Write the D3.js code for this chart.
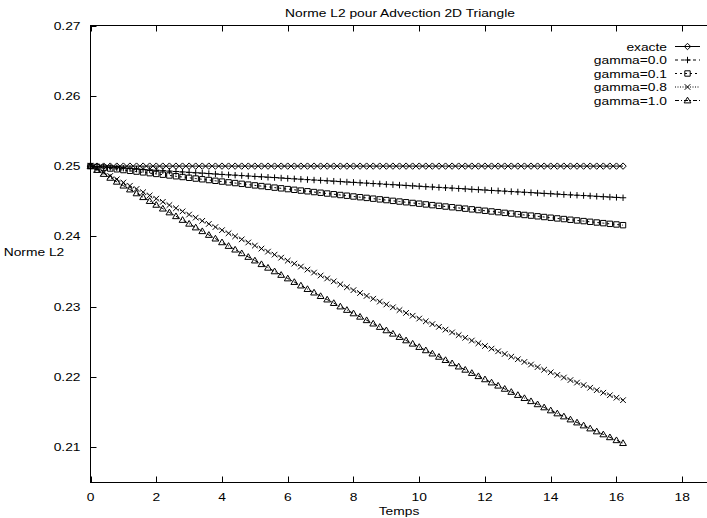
<!DOCTYPE html>
<html>
<head>
<meta charset="utf-8">
<script src="https://cdn.jsdelivr.net/npm/d3@7"></script>
<style>
  html, body { margin: 0; padding: 0; background: #fff; }
  svg { display: block; }
  text { font-family: "Liberation Sans", Arial, Helvetica, sans-serif; fill: #000; }
</style>
</head>
<body>
<svg id="chart" width="707" height="518"></svg>
<script>
// Time samples (every 0.2 up to 16.2)
const temps = [
  0.0, 0.2, 0.4, 0.6, 0.8, 1.0, 1.2, 1.4, 1.6, 1.8,
  2.0, 2.2, 2.4, 2.6, 2.8, 3.0, 3.2, 3.4, 3.6, 3.8,
  4.0, 4.2, 4.4, 4.6, 4.8, 5.0, 5.2, 5.4, 5.6, 5.8,
  6.0, 6.2, 6.4, 6.6, 6.8, 7.0, 7.2, 7.4, 7.6, 7.8,
  8.0, 8.2, 8.4, 8.6, 8.8, 9.0, 9.2, 9.4, 9.6, 9.8,
  10.0, 10.2, 10.4, 10.6, 10.8, 11.0, 11.2, 11.4, 11.6, 11.8,
  12.0, 12.2, 12.4, 12.6, 12.8, 13.0, 13.2, 13.4, 13.6, 13.8,
  14.0, 14.2, 14.4, 14.6, 14.8, 15.0, 15.2, 15.4, 15.6, 15.8,
  16.0, 16.2
];

// L2 norm of the exact solution
const exacte = [
  0.25, 0.25, 0.25, 0.25, 0.25, 0.25, 0.25, 0.25, 0.25, 0.25,
  0.25, 0.25, 0.25, 0.25, 0.25, 0.25, 0.25, 0.25, 0.25, 0.25,
  0.25, 0.25, 0.25, 0.25, 0.25, 0.25, 0.25, 0.25, 0.25, 0.25,
  0.25, 0.25, 0.25, 0.25, 0.25, 0.25, 0.25, 0.25, 0.25, 0.25,
  0.25, 0.25, 0.25, 0.25, 0.25, 0.25, 0.25, 0.25, 0.25, 0.25,
  0.25, 0.25, 0.25, 0.25, 0.25, 0.25, 0.25, 0.25, 0.25, 0.25,
  0.25, 0.25, 0.25, 0.25, 0.25, 0.25, 0.25, 0.25, 0.25, 0.25,
  0.25, 0.25, 0.25, 0.25, 0.25, 0.25, 0.25, 0.25, 0.25, 0.25,
  0.25, 0.25
];

const gamma00 = [
  0.25000, 0.24994, 0.24988, 0.24982, 0.24976, 0.24970, 0.24964, 0.24958, 0.24952, 0.24946,
  0.24941, 0.24935, 0.24929, 0.24923, 0.24917, 0.24911, 0.24905, 0.24900, 0.24894, 0.24888,
  0.24882, 0.24876, 0.24871, 0.24865, 0.24859, 0.24853, 0.24848, 0.24842, 0.24837, 0.24831,
  0.24825, 0.24819, 0.24814, 0.24808, 0.24802, 0.24797, 0.24791, 0.24786, 0.24780, 0.24774,
  0.24769, 0.24763, 0.24758, 0.24752, 0.24747, 0.24741, 0.24736, 0.24730, 0.24725, 0.24719,
  0.24714, 0.24708, 0.24703, 0.24697, 0.24692, 0.24687, 0.24681, 0.24676, 0.24670, 0.24665,
  0.24660, 0.24654, 0.24649, 0.24644, 0.24638, 0.24633, 0.24628, 0.24623, 0.24617, 0.24612,
  0.24607, 0.24602, 0.24596, 0.24591, 0.24586, 0.24581, 0.24576, 0.24570, 0.24565, 0.24560,
  0.24555, 0.24550
];

const gamma01 = [
  0.25000, 0.24989, 0.24978, 0.24966, 0.24955, 0.24944, 0.24933, 0.24922, 0.24911, 0.24900,
  0.24889, 0.24878, 0.24867, 0.24856, 0.24845, 0.24834, 0.24823, 0.24813, 0.24802, 0.24791,
  0.24780, 0.24769, 0.24759, 0.24748, 0.24737, 0.24726, 0.24716, 0.24705, 0.24694, 0.24684,
  0.24673, 0.24663, 0.24652, 0.24642, 0.24631, 0.24621, 0.24610, 0.24600, 0.24589, 0.24579,
  0.24568, 0.24558, 0.24548, 0.24537, 0.24527, 0.24517, 0.24506, 0.24496, 0.24486, 0.24476,
  0.24466, 0.24455, 0.24445, 0.24435, 0.24425, 0.24415, 0.24405, 0.24395, 0.24385, 0.24375,
  0.24365, 0.24355, 0.24345, 0.24335, 0.24325, 0.24315, 0.24305, 0.24296, 0.24286, 0.24276,
  0.24266, 0.24256, 0.24247, 0.24237, 0.24227, 0.24218, 0.24208, 0.24198, 0.24189, 0.24179,
  0.24170, 0.24160
];

const gamma08 = [
  0.25000, 0.24953, 0.24906, 0.24860, 0.24813, 0.24767, 0.24721, 0.24675, 0.24629, 0.24583,
  0.24537, 0.24492, 0.24446, 0.24401, 0.24356, 0.24311, 0.24267, 0.24222, 0.24178, 0.24133,
  0.24089, 0.24045, 0.24001, 0.23958, 0.23914, 0.23870, 0.23827, 0.23784, 0.23741, 0.23698,
  0.23655, 0.23613, 0.23571, 0.23528, 0.23486, 0.23444, 0.23402, 0.23361, 0.23319, 0.23277,
  0.23236, 0.23195, 0.23154, 0.23114, 0.23073, 0.23032, 0.22992, 0.22952, 0.22912, 0.22872,
  0.22832, 0.22792, 0.22753, 0.22714, 0.22674, 0.22635, 0.22596, 0.22558, 0.22519, 0.22480,
  0.22442, 0.22404, 0.22366, 0.22328, 0.22290, 0.22253, 0.22215, 0.22178, 0.22141, 0.22104,
  0.22067, 0.22030, 0.21993, 0.21957, 0.21921, 0.21885, 0.21848, 0.21813, 0.21777, 0.21741,
  0.21706, 0.21671
];

const gamma10 = [
  0.25000, 0.24944, 0.24888, 0.24833, 0.24777, 0.24722, 0.24667, 0.24612, 0.24558, 0.24503,
  0.24449, 0.24395, 0.24341, 0.24287, 0.24234, 0.24180, 0.24127, 0.24074, 0.24021, 0.23969,
  0.23916, 0.23864, 0.23812, 0.23760, 0.23708, 0.23657, 0.23605, 0.23554, 0.23503, 0.23452,
  0.23402, 0.23351, 0.23301, 0.23251, 0.23201, 0.23151, 0.23102, 0.23052, 0.23003, 0.22954,
  0.22905, 0.22857, 0.22808, 0.22760, 0.22712, 0.22664, 0.22616, 0.22569, 0.22521, 0.22474,
  0.22427, 0.22380, 0.22334, 0.22287, 0.22241, 0.22195, 0.22149, 0.22103, 0.22057, 0.22012,
  0.21967, 0.21922, 0.21877, 0.21832, 0.21788, 0.21744, 0.21700, 0.21656, 0.21612, 0.21568,
  0.21525, 0.21482, 0.21439, 0.21396, 0.21353, 0.21311, 0.21268, 0.21226, 0.21184, 0.21143,
  0.21101, 0.21060
];

const seriesNames = ["exacte", "gamma=0.0", "gamma=0.1", "gamma=0.8", "gamma=1.0"];
const xTicks = [0, 2, 4, 6, 8, 10, 12, 14, 16, 18];
const yTicks = [0.21, 0.22, 0.23, 0.24, 0.25, 0.26, 0.27];

const titleText = "Norme L2 pour Advection 2D Triangle";
const xLabelText = "Temps";
const yLabelText = "Norme L2";

// ---- drawing ----
const svg = d3.select("#chart");
const W = 707, H = 518;
const plotLeft = 90.5, plotTop = 25.5, plotBottom = 482.5, plotRight = 708.5;
const FS = 11.5, SX = 1.2;   // glyph size and horizontal stretch of the lettering

const x = d3.scaleLinear().domain([0, 18.8]).range([plotLeft, plotRight]);
const y = d3.scaleLinear().domain([0.205, 0.27]).range([plotBottom, plotTop]);

svg.append("rect").attr("width", W).attr("height", H).attr("fill", "#fff");

function label(g, px, py, str, anchor) {
  return g.append("text")
    .attr("transform", `translate(${px},${py}) scale(${SX},1)`)
    .attr("text-anchor", anchor)
    .attr("font-size", FS)
    .text(str);
}

const tickLen = 6;
const axisG = svg.append("g");

// bottom ticks (inward) and mirrored top ticks
xTicks.forEach(t => {
  const px = Math.round(x(t)) + 0.5;
  axisG.append("line").attr("x1", px).attr("x2", px)
    .attr("y1", plotBottom).attr("y2", plotBottom - tickLen)
    .attr("stroke", "#000").attr("stroke-width", 1);
  axisG.append("line").attr("x1", px).attr("x2", px)
    .attr("y1", plotTop).attr("y2", plotTop + tickLen)
    .attr("stroke", "#000").attr("stroke-width", 1);
  label(axisG, x(t), 501, String(t), "middle");
});

// left ticks (inward)
yTicks.forEach(v => {
  const py = Math.round(y(v)) + 0.5;
  axisG.append("line").attr("x1", plotLeft).attr("x2", plotLeft + tickLen)
    .attr("y1", py).attr("y2", py)
    .attr("stroke", "#000").attr("stroke-width", 1);
  label(axisG, 80.5, y(v) + 4, v.toFixed(2), "end");
});

// plot border
axisG.append("rect")
  .attr("x", plotLeft).attr("y", plotTop)
  .attr("width", plotRight - plotLeft).attr("height", plotBottom - plotTop)
  .attr("fill", "none").attr("stroke", "#000").attr("stroke-width", 1);

// titles
label(svg, 400, 17.3, titleText, "middle");
label(svg, 399, 514.5, xLabelText, "middle");
label(svg, 34, 256, yLabelText, "middle");

// point shapes
const shapes = [
  "M0,-3.2L3.2,0L0,3.2L-3.2,0Z",              // diamond
  "M-3.2,0H3.2M0,-3.2V3.2",                  // plus
  "M-2.7,-2.7H2.7V2.7H-2.7Z",                // square
  "M-2.8,-2.8L2.8,2.8M-2.8,2.8L2.8,-2.8",    // cross
  "M0,-3.3L3.4,2.4H-3.4Z"                    // triangle
];
const dashes = [null, "3,3", "2,3", "1,1.5", "4,2,1,2"];

const allSeries = [exacte, gamma00, gamma01, gamma08, gamma10];
const line = d3.line().x(d => x(d[0])).y(d => y(d[1]));

const plotG = svg.append("g");
allSeries.forEach((vals, k) => {
  const pts = temps.map((t, i) => [t, vals[i]]);
  plotG.append("path")
    .attr("d", line(pts))
    .attr("fill", "none").attr("stroke", "#000").attr("stroke-width", 1)
    .attr("stroke-dasharray", dashes[k]);
  plotG.selectAll(null).data(pts).enter().append("path")
    .attr("d", shapes[k])
    .attr("transform", d => `translate(${x(d[0])},${y(d[1])})`)
    .attr("fill", "none").attr("stroke", "#000").attr("stroke-width", 1);
});

// legend
const legG = svg.append("g");
seriesNames.forEach((name, k) => {
  const ly = 46.5 + 13.5 * k;
  label(legG, 667, ly + 4, name, "end");
  legG.append("line").attr("x1", 675).attr("x2", 700)
    .attr("y1", ly).attr("y2", ly)
    .attr("stroke", "#000").attr("stroke-width", 1)
    .attr("stroke-dasharray", dashes[k]);
  legG.append("path").attr("d", shapes[k])
    .attr("transform", `translate(687.5,${ly})`)
    .attr("fill", "none").attr("stroke", "#000").attr("stroke-width", 1);
});
</script>
</body>
</html>
